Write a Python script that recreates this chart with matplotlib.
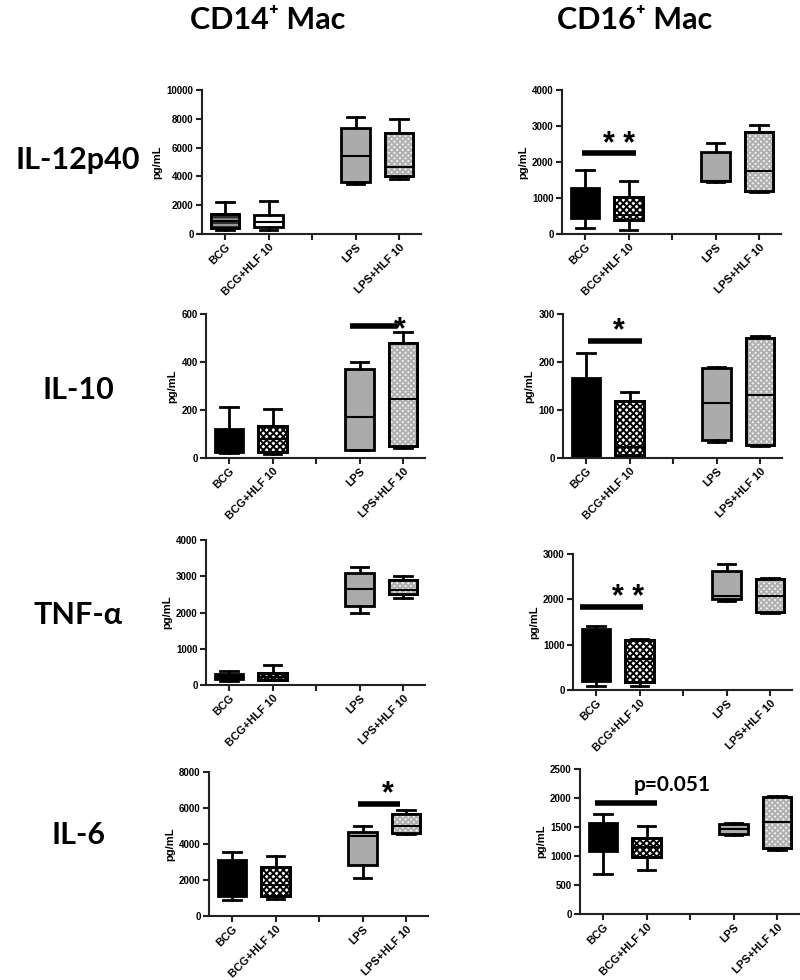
import numpy as np
import matplotlib
matplotlib.use("Agg")
import matplotlib.pyplot as plt
from matplotlib.patches import PathPatch

plt.rcParams['font.family'] = ['Liberation Sans', 'DejaVu Sans']
plt.rcParams['hatch.linewidth'] = 1.4

groups = ["BCG", "BCG+HLF 10", "LPS", "LPS+HLF 10"]
positions = [1, 2, 4, 5]

# box stats per group: [min, q1, median, q3, max]
il12_cd14 = [[300, 410, 900, 1360, 2200], [300, 500, 840, 1320, 2300],
             [3460, 3580, 5400, 7390, 8100], [3830, 4020, 4660, 7040, 7990]]
il12_cd16 = [[175, 435, 800, 1270, 1790], [110, 390, 520, 1020, 1480],
             [1435, 1480, 1470, 2290, 2540], [1160, 1190, 1760, 2840, 3030]]
il10_cd14 = [[22, 25, 40, 122, 212], [18, 25, 80, 132, 203],
             [32, 35, 170, 370, 398], [43, 49, 244, 478, 524]]
il10_cd16 = [[2, 3, 60, 166, 218], [3, 6, 22, 118, 138],
             [34, 38, 115, 187, 189], [25, 28, 132, 250, 254]]
tnf_cd14 = [[100, 156, 220, 294, 395], [129, 138, 230, 322, 552],
            [1980, 2180, 2660, 3080, 3250], [2410, 2510, 2620, 2890, 3010]]
tnf_cd16 = [[90, 200, 700, 1340, 1420], [90, 170, 690, 1100, 1135],
            [1965, 2000, 2070, 2620, 2780], [1700, 1730, 2070, 2440, 2480]]
il6_cd14 = [[910, 1090, 1800, 3130, 3540], [960, 1090, 1700, 2700, 3330],
            [2130, 2810, 4440, 4670, 5020], [4550, 4610, 4980, 5690, 5870]]
il6_cd16 = [[697, 1089, 1300, 1567, 1717], [766, 991, 1152, 1308, 1509],
            [1359, 1382, 1463, 1555, 1567], [1106, 1135, 1578, 2016, 2040]]

# fills: (face, hatch, hatch colour)
FILLS = {
    "black": ("black", None, None),
    "dark": ("#303030", "---", "#9a9a9a"),
    "white": ("white", None, None),
    "checker": ("white", "xxxxx", "black"),
    "gray": ("#ababab", None, None),
    "light": ("#f2f2f2", "xxxxxx", "#b0b0b0"),
}
std_fill = ["black", "checker", "gray", "light"]

# panel: data, left px, top px, bottom px, ymax, ystep, fills, sig bar, sig text
panels = [
    (il12_cd14, 202, 90, 234, 10000, 2000, ["dark", "white", "gray", "light"], None, None),
    (il12_cd16, 562, 90, 234, 4000, 1000, std_fill, (0.93, 2.17, 2260), ("**", 1.78, 2770)),
    (il10_cd14, 206, 314, 458, 600, 200, std_fill, (3.77, 4.86, 550), ("*", 4.93, 575)),
    (il10_cd16, 563, 314, 458, 300, 100, std_fill, (1.05, 2.29, 244), ("*", 1.76, 286)),
    (tnf_cd14, 206, 540, 685, 4000, 1000, ["black", "checker", "gray", "light"], None, None),
    (tnf_cd16, 573, 554, 690, 3000, 1000, std_fill, (0.63, 2.09, 1840), ("**", 1.74, 2250)),
    (il6_cd14, 209, 772, 916, 8000, 2000, std_fill, (3.9, 4.86, 6240), ("*", 4.59, 7315)),
    (il6_cd16, 580, 769, 914, 2500, 500, std_fill, (0.82, 2.23, 1912), ("p=0.051", 2.59, 2229)),
]

W, H = 800, 980
fig = plt.figure(figsize=(8, 9.8), dpi=100)
unit = 43.5
xlim = (0.47, 5.5)

for data, left, top, bot, ymax, ystep, fills, bar, sig in panels:
    width = (xlim[1] - xlim[0]) * unit
    ax = fig.add_axes([left / W, 1 - bot / H, width / W, (bot - top) / H])
    stats = [dict(whislo=d[0], q1=d[1], med=d[2], q3=d[3], whishi=d[4], label=g)
             for d, g in zip(data, groups)]
    res = ax.bxp(stats, positions=positions, widths=0.66, capwidths=0.4,
                 showfliers=False, patch_artist=True,
                 boxprops=dict(linewidth=2, edgecolor="black"),
                 whiskerprops=dict(linewidth=2, color="black"),
                 capprops=dict(linewidth=2, color="black"),
                 medianprops=dict(linewidth=1.5, color="black", zorder=3))
    for box, f in zip(res["boxes"], fills):
        face, hatch, hc = FILLS[f]
        box.set_facecolor(face)
        if hatch:
            ax.add_patch(PathPatch(box.get_path(), facecolor="none", edgecolor=hc,
                                   linewidth=0, hatch=hatch, zorder=2.1))
            ax.add_patch(PathPatch(box.get_path(), facecolor="none", edgecolor="black",
                                   linewidth=2, zorder=2.2))
    ax.set_xlim(*xlim)
    ax.set_ylim(0, ymax)
    ax.set_yticks(np.arange(0, ymax + 1, ystep))
    ax.set_xticks([1, 2, 3, 4, 5])
    ax.set_xticklabels(["BCG", "BCG+HLF 10", "", "LPS", "LPS+HLF 10"],
                       rotation=45, ha="right", rotation_mode="anchor",
                       fontsize=8, fontweight="bold")
    for t in ax.get_yticklabels():
        t.set_fontsize(7)
        t.set_fontweight("bold")
    ax.set_ylabel("pg/mL", fontsize=8, fontweight="bold", labelpad=3)
    ax.spines["top"].set_visible(False)
    ax.spines["right"].set_visible(False)
    for s in ("left", "bottom"):
        ax.spines[s].set_linewidth(1.5)
        ax.spines[s].set_color("#222222")
    ax.tick_params(length=4, width=1.5, color="#222222", pad=2)
    ax.patch.set_visible(False)
    if bar:
        ax.plot([bar[0], bar[1]], [bar[2], bar[2]], color="black", lw=4,
                solid_capstyle="butt", clip_on=False, zorder=4)
    if sig:
        txt, sx, sy = sig
        if txt.startswith("p"):
            ax.text(sx, sy, txt, ha="center", va="center", fontsize=15,
                    fontweight="bold", family=["Lato", "DejaVu Sans"], clip_on=False)
        else:
            ax.annotate(txt.replace("**", "* *"), (sx, sy), xytext=(0, -0.6 * 22),
                        textcoords="offset points", ha="center", va="baseline",
                        fontsize=22, fontweight="bold", annotation_clip=False)

title_font = dict(fontsize=22, fontweight="bold", family=["Lato", "DejaVu Sans"])
fig.text(268 / W, 1 - 20 / H, "CD14\u207a Mac", ha="center", va="center", **title_font)
fig.text(635 / W, 1 - 20 / H, "CD16\u207a Mac", ha="center", va="center", **title_font)

row_labels = ["IL-12p40", "IL-10", "TNF-\u03b1", "IL-6"]
row_y = [160, 390, 615, 835]
for lab, y in zip(row_labels, row_y):
    fig.text(78 / W, 1 - y / H, lab, ha="center", va="center", **title_font)

fig.savefig("out.png", dpi=100, facecolor="white")
